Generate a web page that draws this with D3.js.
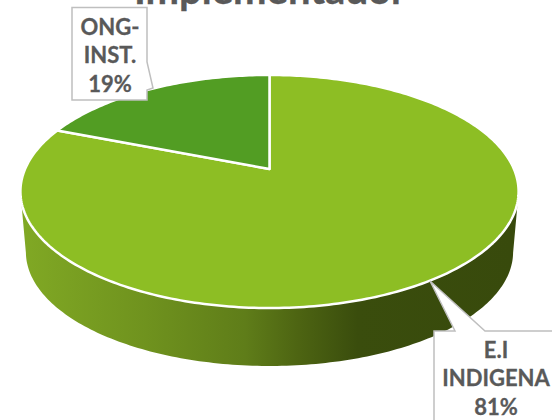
<!DOCTYPE html>
<html>
<head>
<meta charset="utf-8">
<script src="https://cdn.jsdelivr.net/npm/d3@7"></script>
<style>
  html, body { margin: 0; padding: 0; background: #fff; overflow: hidden; }
  text { font-family: Lato, "Noto Sans", sans-serif; font-weight: 700; fill: #595959; stroke: #595959; stroke-width: 0.3px; }
</style>
</head>
<body>
<svg id="chart" width="552" height="420"></svg>
<script>
const title = "Implementador";
const categories = ["E.I INDIGENA", "ONG-INST."];
const labelLines = [["E.I", "INDIGENA", "81%"], ["ONG-", "INST.", "19%"]];
const values = [81, 19];
const colors = ["#8dbe24", "#529d23"];

const svg = d3.select("#chart");
const defs = svg.append("defs");

// tilted disc: unit circle goes through a perspective projection
const cx = 269.5, cy = 169, A = 244.4, B = 112.2, p = 0.193;
const depth = 61, shrink = 0.978;

const xScale = d3.scaleLinear().domain([-1, 1]).range([cx - A, cx + A]);
const yScale = d3.scaleLinear().domain([-1, 1]).range([cy - B, cy + B]);

function project(angle, r, bottom) {
    const u = r * Math.sin(angle), v = -r * Math.cos(angle);
    const w = 1 - p * v;
    const x = xScale(u / w), y = yScale(v / w);
    if (!bottom) return [x, y];
    return [cx + (x - cx) * shrink, cy + (y - cy) * shrink + depth];
}

const pie = d3.pie().sort(null).value(d => d).startAngle(0).endAngle(2 * Math.PI);
const arcs = pie(values);
const line = d3.line();

function rimPoints(a0, a1, bottom) {
    const n = Math.max(2, Math.ceil(Math.abs(a1 - a0) * 60));
    return d3.range(n + 1).map(i => project(a0 + (a1 - a0) * i / n, 1, bottom));
}

// wall gradient runs left to right over the front of the disc
const grad = defs.append("linearGradient")
    .attr("id", "wall")
    .attr("gradientUnits", "userSpaceOnUse")
    .attr("x1", cx - A).attr("x2", cx + A).attr("y1", 0).attr("y2", 0);
grad.append("stop").attr("offset", "0").attr("stop-color", "#80a824");
grad.append("stop").attr("offset", "0.25").attr("stop-color", "#6f921e");
grad.append("stop").attr("offset", "0.45").attr("stop-color", "#5f7d19");
grad.append("stop").attr("offset", "0.56").attr("stop-color", "#4d6412");
grad.append("stop").attr("offset", "0.68").attr("stop-color", "#3a4d0d");
grad.append("stop").attr("offset", "1").attr("stop-color", "#384a0c");

// front wall, from right extreme round to left extreme
const wallStart = Math.PI / 2 + 0.2, wallEnd = 3 * Math.PI / 2 - 0.2;
svg.append("path")
    .attr("d", line(rimPoints(wallStart, wallEnd, false).concat(rimPoints(wallEnd, wallStart, true))) + "Z")
    .attr("fill", "url(#wall)");

// top face
svg.selectAll("path.slice")
    .data(arcs)
    .join("path")
    .attr("class", "slice")
    .attr("d", d => line([project(0, 0, false)].concat(rimPoints(d.startAngle, d.endAngle, false))) + "Z")
    .attr("fill", (d, i) => colors[i])
    .attr("stroke", "#fff")
    .attr("stroke-width", 2.5)
    .attr("stroke-linejoin", "round");

// title is cut by the top of the picture
svg.append("text")
    .attr("x", 270)
    .attr("y", 4)
    .attr("text-anchor", "middle")
    .attr("font-size", 40)
    .text(title);

// callouts
function callout(points, lines, tx, ty) {
    svg.append("path")
        .attr("d", line(points) + "Z")
        .attr("fill", "#fff")
        .attr("stroke", "#bfbfbf")
        .attr("stroke-width", 1.5);
    svg.append("g").selectAll("text")
        .data(lines)
        .join("text")
        .attr("x", tx)
        .attr("y", (d, i) => ty + i * 28.3)
        .attr("text-anchor", "middle")
        .attr("font-size", 22)
        .text(d => d);
}

const tip0 = [430, 281];
callout([[434, 331], [455, 331], tip0, [485, 331], [560, 331], [560, 430], [434, 430]], labelLines[0], 496, 358);
callout([[72, 7.5], [147, 7.5], [147, 62], [153, 88], [147, 90], [147, 100], [72, 100]], labelLines[1], 110, 35);
</script>
</body>
</html>
